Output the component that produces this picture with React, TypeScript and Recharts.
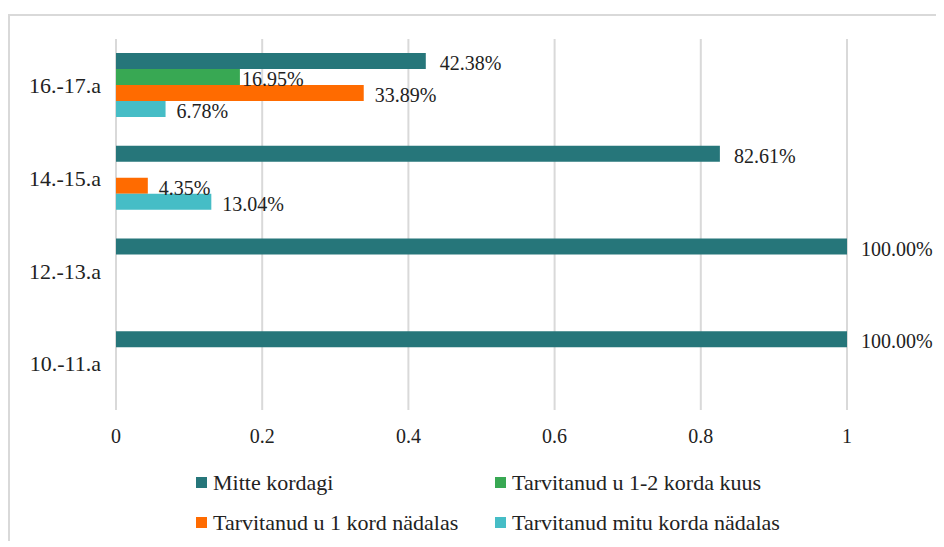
import { BarChart, Bar, XAxis, YAxis, CartesianGrid, LabelList } from "recharts";

// age groups, top to bottom as in the picture
const categories = ["16.-17.a", "14.-15.a", "12.-13.a", "10.-11.a"];

const mitteKordagi = [0.4238, 0.8261, 1, 1];
const korda12Kuus = [0.1695, 0, 0, 0];
const kord1Nadalas = [0.3389, 0.0435, 0, 0];
const mituKordaNadalas = [0.0678, 0.1304, 0, 0];

const xTicks = [0, 0.2, 0.4, 0.6, 0.8, 1];

const seriesNames = [
  "Mitte kordagi",
  "Tarvitanud u 1-2 korda kuus",
  "Tarvitanud u 1 kord nädalas",
  "Tarvitanud mitu korda nädalas",
];

const colors = ["#26767A", "#38A853", "#FF6B00", "#46BDC6"];

const FONT = "'Liberation Serif', 'Times New Roman', serif";
const TEXT = "#222";

const chartData = categories.map((cat, i) => ({
  cat,
  s0: mitteKordagi[i],
  s1: korda12Kuus[i],
  s2: kord1Nadalas[i],
  s3: mituKordaNadalas[i],
}));

// hide labels for empty bars
const formatPct = (v: any) => (v ? `${(Number(v) * 100).toFixed(2)}%` : "");

const labelOffsets = [14, 2, 11, 11];

export default function App() {
  return (
    <div
      style={{
        position: "relative",
        marginTop: 6,
        width: 934,
        height: 525,
        borderTop: "2px solid #d9d9d9",
        borderLeft: "2px solid #d9d9d9",
        fontFamily: FONT,
      }}
    >
      <BarChart
        width={934}
        height={525}
        data={chartData}
        layout="vertical"
        margin={{ top: 23, right: 97, bottom: 91, left: 0 }}
        barCategoryGap="15%"
        barGap={0}
        style={{ fontFamily: FONT }}
      >
        <CartesianGrid horizontal={false} stroke="#d9d9d9" strokeWidth={2} />
        <XAxis
          type="number"
          domain={[0, 1]}
          ticks={xTicks}
          tickFormatter={(v) => String(v)}
          axisLine={false}
          tickLine={false}
          tickMargin={13}
          height={40}
          tick={{ fill: TEXT, fontSize: 20, fontFamily: FONT }}
        />
        <YAxis
          type="category"
          dataKey="cat"
          width={106}
          axisLine={false}
          tickLine={false}
          tickMargin={9}
          tick={{ fill: TEXT, fontSize: 22, fontFamily: FONT }}
        />
        {["s0", "s1", "s2", "s3"].map((key, i) => (
          <Bar
            key={key}
            dataKey={key}
            name={seriesNames[i]}
            fill={colors[i]}
            isAnimationActive={false}
          >
            <LabelList
              dataKey={key}
              position="right"
              offset={labelOffsets[i]}
              formatter={formatPct}
              fill={TEXT}
              fontSize={20}
              fontFamily={FONT}
              dy={2}
            />
          </Bar>
        ))}
      </BarChart>

      {seriesNames.map((name, i) => (
        <div
          key={name}
          style={{
            position: "absolute",
            left: i % 2 === 0 ? 186 : 485,
            top: i < 2 ? 454 : 494,
            height: 25,
            display: "flex",
            alignItems: "center",
            fontSize: 22,
            color: TEXT,
            whiteSpace: "nowrap",
          }}
        >
          <span
            style={{
              display: "inline-block",
              width: 11,
              height: 11,
              background: colors[i],
              marginRight: 6,
            }}
          />
          {name}
        </div>
      ))}
    </div>
  );
}
